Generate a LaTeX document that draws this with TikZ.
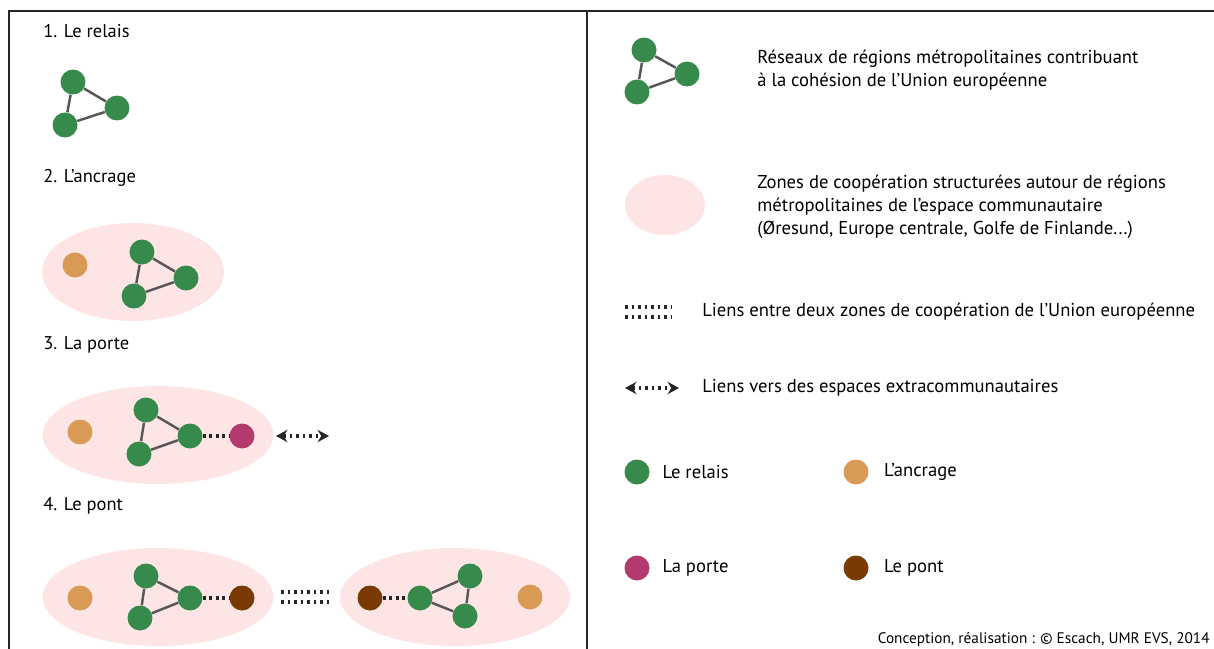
\documentclass[tikz,border=0pt]{standalone}
\usepackage{fontspec}
\setmainfont{PT Sans}
\usetikzlibrary{arrows.meta,positioning,shapes.geometric}
\definecolor{relaisCol}{HTML}{368A4B}
\definecolor{ancrageCol}{HTML}{D99A55}
\definecolor{porteCol}{HTML}{B23A6E}
\definecolor{pontCol}{HTML}{7A3A04}
\definecolor{zoneCol}{HTML}{FDE5E5}
\definecolor{tieCol}{HTML}{5A5656}
\tikzset{
  metro/.style={circle, fill=#1, minimum size=0.5cm, inner sep=0pt},
  zone/.style={ellipse, fill=zoneCol, inner sep=0pt, minimum height=1.96cm},
  tie/.style={tieCol, line width=1.4pt},                            % links inside a network
  link/.style={dash pattern=on 1.6pt off 2.1pt, line width=1.8pt, black!85}, % dotted link
  ext/.style={link, {Stealth[length=6.5pt,width=7pt]}-{Stealth[length=6.5pt,width=7pt]}},
  frame/.style={line width=1.1pt, black!85},
  title/.style={anchor=west, inner sep=0pt, font=\fontsize{10.5}{13}\selectfont},
  lbl/.style={anchor=west, inner sep=0pt, align=left, font=\fontsize{10.6}{13}\selectfont},
}
\newcommand{\relais}[4]{%
  \node[metro=relaisCol] (#1a) at #2 {};
  \node[metro=relaisCol] (#1b) at #3 {};
  \node[metro=relaisCol] (#1c) at #4 {};
  \draw[tie] (#1a) -- (#1b) -- (#1c) -- (#1a);}

\begin{document}
\begin{tikzpicture}[x=0.02cm, y=-0.02cm]
  \useasboundingbox (0,0) rectangle (1214,649);
  \draw[frame] (9,649) -- (9,11) -- (1214,11);
  \draw[frame] (587,11) -- (587,649);

  % 1 -- le relais
  \node[title] (t1) at (43,31) {1. Le relais};
  \relais{a}{(73,82)}{(117,108)}{(65,125)}

  % 2 -- l'ancrage
  \node[title] (t2) at (43,178) {2. L'ancrage};
  \node[zone, minimum width=3.64cm] (z2) at (133,272) {};
  \node[metro=ancrageCol] (b0) at (75,265) {};
  \relais{b}{(142,252)}{(186,278)}{(134,296)}

  % 3 -- la porte
  \node[title] (t3) at (43,345) {3. La porte};
  \node[zone, minimum width=4.62cm] (z3) at (158,435) {};
  \node[metro=ancrageCol] (c0) at (80,432) {};
  \relais{c}{(146,410)}{(190,436)}{(139,454)}
  \node[metro=porteCol] (c4) at (242,436) {};
  \draw[link] (cb) -- (c4);
  \coordinate (cx1) at (276,436);
  \coordinate (cx2) at (329,436);
  \draw[ext] (cx1) -- (cx2);

  % 4 -- le pont
  \node[title] (t4) at (43,506) {4. Le pont};
  \node[zone, minimum width=4.62cm] (z4) at (158,597) {};
  \node[metro=ancrageCol] (d0) at (80,598) {};
  \relais{d}{(146,576)}{(190,598)}{(140,618)}
  \node[metro=pontCol] (d4) at (242,598) {};
  \draw[link] (db) -- (d4);
  \node[zone, minimum width=4.6cm] (z5) at (455,597) {};
  \node[metro=pontCol] (e4) at (370,598) {};
  \relais{e}{(470,576)}{(420,598)}{(465,616)}
  \node[metro=ancrageCol] (e0) at (530,597) {};
  \draw[link] (e4) -- (eb);
  \coordinate (p1) at (281,592); \coordinate (p2) at (329,592);
  \coordinate (p3) at (281,602); \coordinate (p4) at (329,602);
  \draw[link] (p1) -- (p2);
  \draw[link] (p3) -- (p4);

  % legend
  \relais{l}{(644,50)}{(687,74)}{(637,92)}
  \node[lbl] (l1) at (757,70) {Réseaux de régions métropolitaines contribuant\\à la cohésion de l'Union européenne};
  \node[zone, minimum width=1.6cm, minimum height=1.2cm] (lz) at (665,205) {};
  \node[lbl] (l2) at (757,207) {Zones de coopération structurées autour de régions\\métropolitaines de l'espace communautaire\\(Øresund, Europe centrale, Golfe de Finlande...)};
  \coordinate (lk1) at (625,307); \coordinate (lk2) at (672,307);
  \coordinate (lk3) at (625,317); \coordinate (lk4) at (672,317);
  \draw[link] (lk1) -- (lk2);
  \draw[link] (lk3) -- (lk4);
  \node[lbl] (l3) at (702,312) {Liens entre deux zones de coopération de l'Union européenne};
  \coordinate (lx1) at (625,388); \coordinate (lx2) at (679,388);
  \draw[ext] (lx1) -- (lx2);
  \node[lbl] (l4) at (702,388) {Liens vers des espaces extracommunautaires};

  \node[metro=relaisCol]   (m1) at (637,472) {};
  \node[lbl, right=7pt of m1] {Le relais};
  \node[metro=ancrageCol]  (m2) at (856,472) {};
  \node[lbl, right=8.5pt of m2] {L'ancrage};
  \node[metro=porteCol]    (m3) at (637,568) {};
  \node[lbl, right=7pt of m3] {La porte};
  \node[metro=pontCol]     (m4) at (856,568) {};
  \node[lbl, right=8.5pt of m4] {Le pont};

  \node[anchor=east, inner sep=0pt, font=\fontsize{8.7}{11}\selectfont] (credit) at (1210,640)
    {Conception, réalisation : © Escach, UMR EVS, 2014};
\end{tikzpicture}
\end{document}
